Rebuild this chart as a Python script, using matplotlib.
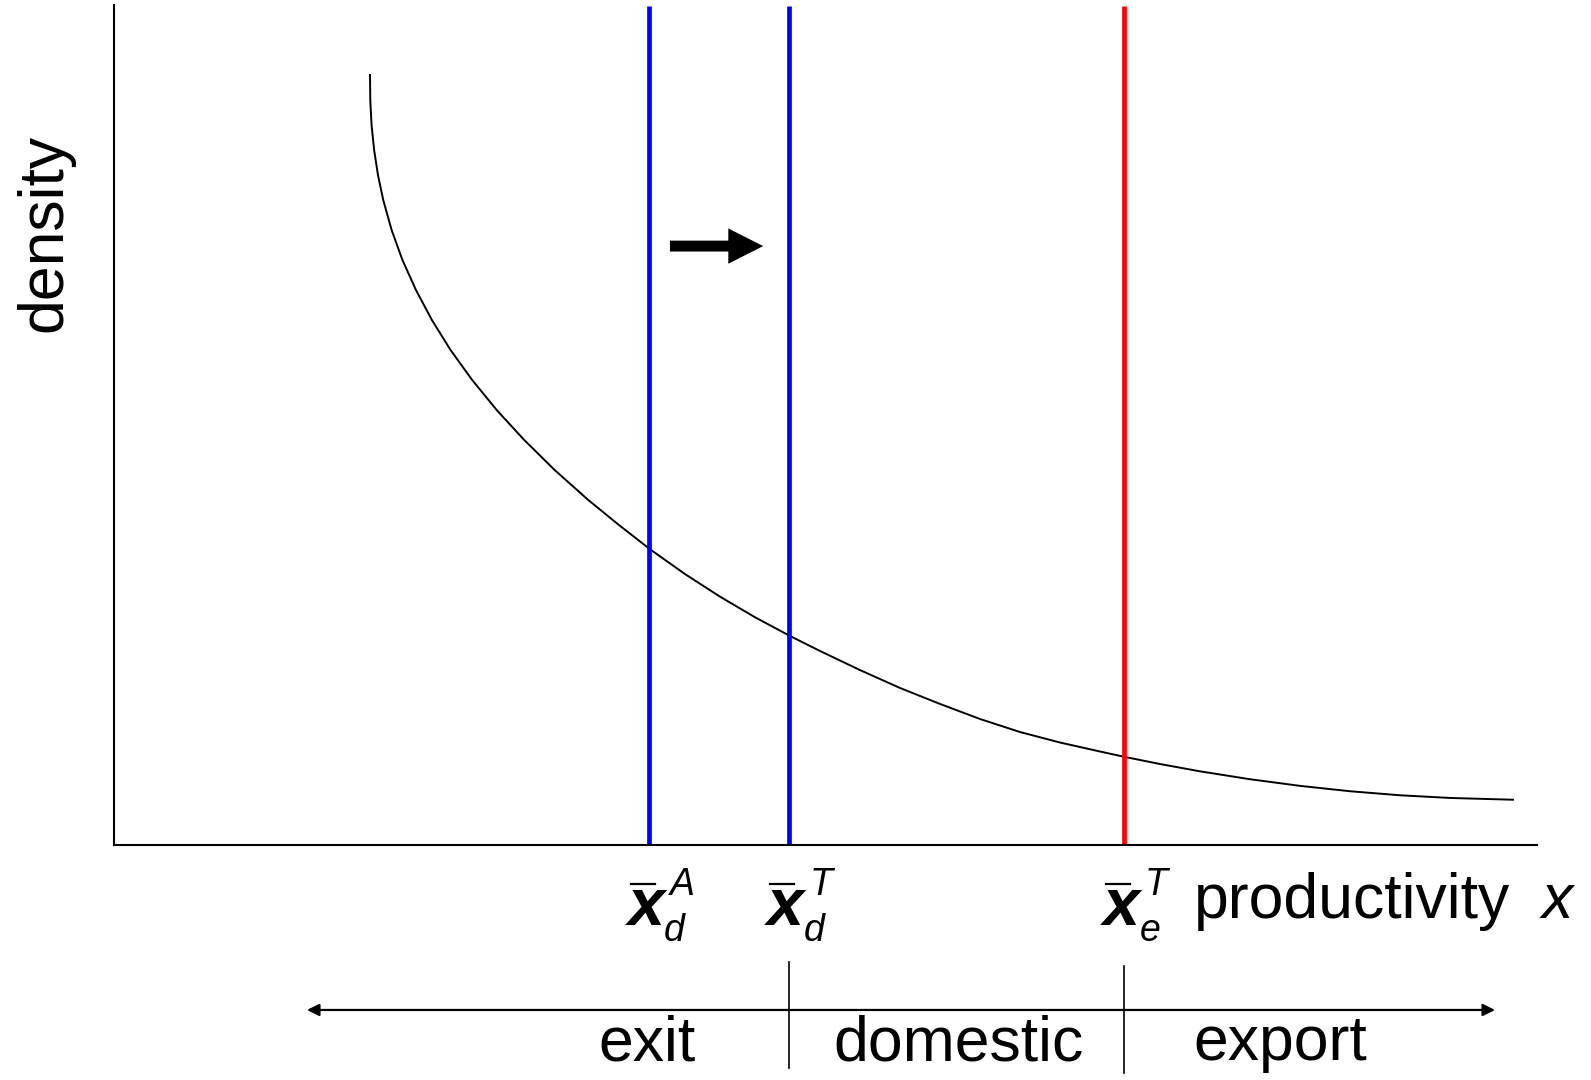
import matplotlib
matplotlib.use("Agg")
import matplotlib.pyplot as plt

plt.rcParams['font.family'] = ['Liberation Sans', 'DejaVu Sans']

# density curve (axis units 0..100)
prod = [17.99, 18.01, 18.10, 18.28, 18.55, 18.92, 19.51, 20.27, 21.22, 22.34, 23.65,
        25.17, 26.89, 28.83, 30.97, 33.33, 35.48, 37.74, 40.13, 42.59, 45.05, 47.51,
        49.61, 52.42, 55.24, 58.05, 60.86, 63.67, 66.48, 69.29, 71.05, 73.51, 76.32,
        79.83, 83.35, 86.86, 90.37, 93.89, 98.31]
dens = [91.67, 88.69, 85.71, 82.74, 79.76, 76.79, 73.21, 69.64, 66.07, 62.50, 58.93,
        55.36, 51.79, 48.21, 44.64, 41.07, 38.10, 35.12, 32.25, 29.56, 27.11, 24.88,
        23.10, 20.83, 18.69, 16.79, 15.00, 13.45, 12.20, 11.13, 10.48, 9.64, 8.77,
        7.83, 7.04, 6.40, 5.92, 5.60, 5.39]

# cutoffs
cut_x = [37.6, 47.4, 71.0]
cut_sub = ['d', 'd', 'e']
cut_sup = ['A', 'T', 'T']
cut_colors = ['#0000ff', '#0000ff', '#ff0000']

regions = ['exit', 'domestic', 'export']
region_x = [37.46, 59.38, 81.94]

fig = plt.figure(figsize=(15.91, 10.8), dpi=100)
ax = fig.add_axes([114 / 1591, 235 / 1080, 1423 / 1591, 840 / 1080])
ax.set_xlim(0, 100)
ax.set_ylim(0, 100)
for s in ['top', 'right']:
    ax.spines[s].set_visible(False)
for s in ['left', 'bottom']:
    ax.spines[s].set_linewidth(1.5)
ax.set_xticks([])
ax.set_yticks([])

ax.plot(prod, dens, color='black', lw=1.4, solid_joinstyle='round')

for cx, cc, sb, sp in zip(cut_x, cut_colors, cut_sub, cut_sup):
    ax.plot([cx, cx], [0, 99.9], color=cc, lw=3.4, solid_capstyle='butt')
    # x-bar label built from pieces
    ax.text(cx - 0.2, -9.5, 'x', fontsize=48, ha='center', va='baseline',
            style='italic', weight='bold')
    ax.plot([cx - 1.3, cx + 0.4], [-4.6, -4.6], color='black', lw=1.6, clip_on=False)
    ax.text(cx + 1.05, -11.4, sb, fontsize=27, ha='left', va='baseline', style='italic')
    ax.text(cx + 1.45, -6.0, sp, fontsize=27, ha='left', va='baseline', style='italic')

# shift arrow
ax.arrow(39.07, 71.3, 4.1, 0, width=1.3, head_width=4.2, head_length=2.45,
         length_includes_head=False, color='black', lw=0)

ax.text(-4.85, 72.9, 'density', fontsize=45, rotation=90, ha='center', va='center')
ax.text(75.9, -8.7, 'productivity', fontsize=45, ha='left', va='baseline')
ax.text(100.35, -8.7, 'x', fontsize=45, ha='left', va='baseline', style='italic')

# bottom partition
ax.annotate('', xy=(13.56, -19.64), xytext=(97.05, -19.64),
            arrowprops=dict(arrowstyle='<|-|>', lw=1.6, color='black', mutation_scale=18,
                            shrinkA=0, shrinkB=0), annotation_clip=False)
ax.plot([cut_x[1], cut_x[1]], [-13.9, -26.6], color='black', lw=1.2, clip_on=False)
ax.plot([cut_x[2], cut_x[2]], [-14.4, -27.1], color='black', lw=1.2, clip_on=False)
for rx, name in zip(region_x, regions):
    ax.text(rx, -25.6, name, fontsize=45, ha='center', va='baseline')

fig.savefig('out.png', dpi=100, facecolor='white')
